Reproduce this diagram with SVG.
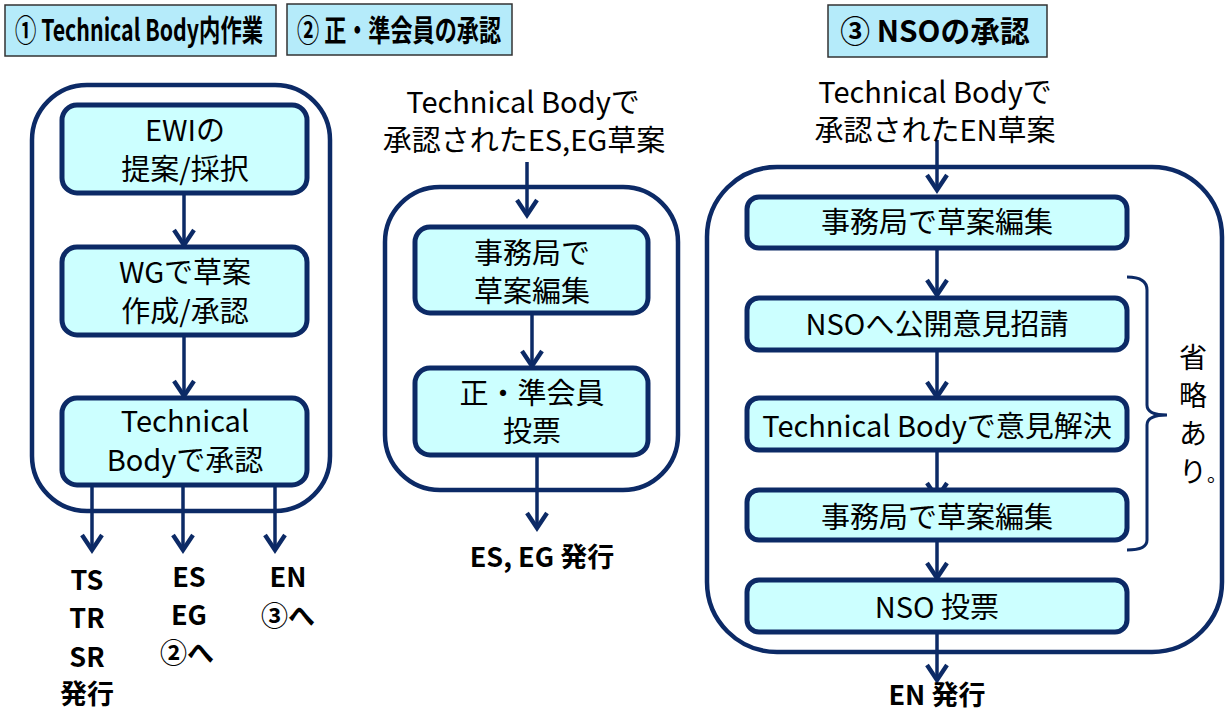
<svg xmlns="http://www.w3.org/2000/svg" width="1231" height="711" viewBox="0 0 1231 711">
<style>
.title{fill:#b5ebfa;stroke:#333;stroke-width:1.5}
.tt{font-family:"Noto Sans CJK JP","Noto Sans",sans-serif;font-weight:bold;font-size:30px;fill:#000;text-anchor:middle}
.panel{fill:none;stroke:#0c2a66;stroke-width:4.5}
.box{fill:#ccffff;stroke:#0c2a66;stroke-width:5}
.t{font-family:"Noto Sans CJK JP","Noto Sans",sans-serif;font-size:29px;fill:#000;text-anchor:middle}
.b{font-family:"Noto Sans CJK JP","Noto Sans",sans-serif;font-weight:bold;font-size:27px;fill:#000;text-anchor:middle}
.c{fill:none;stroke:#0c2a66;stroke-width:3.5;marker-end:url(#ah)}
</style>
<defs>
<marker id="ah" markerUnits="userSpaceOnUse" markerWidth="30" markerHeight="30" refX="0" refY="0" viewBox="-16 -12 20 24" orient="auto">
<path d="M-12,-8 L0,0 L-12,8" fill="none" stroke="#0c2a66" stroke-width="3.5"/>
</marker>
</defs>
<rect width="1231" height="711" fill="#fff"/>

<g id="title1"><rect class="title" x="5" y="5" width="271" height="51"/><text class="tt" transform="translate(139,41) scale(0.8,1)" x="0" y="0" textLength="310" lengthAdjust="spacingAndGlyphs">① Technical Body内作業</text></g>
<g id="title2"><rect class="title" x="287" y="4" width="225" height="51"/><text class="tt" transform="translate(399,41) scale(0.8,1)" x="0" y="0" textLength="255" lengthAdjust="spacingAndGlyphs">② 正・準会員の承認</text></g>
<g id="title3"><rect class="title" x="828" y="5" width="219" height="52"/><text class="tt" transform="translate(935,42) scale(0.8,1)" x="0" y="0" textLength="237" lengthAdjust="spacingAndGlyphs">③ NSOの承認</text></g>

<g id="panel1"><rect class="panel" x="32" y="85" width="298" height="426" rx="55"/></g>
<g id="panel2"><rect class="panel" x="385" y="187" width="293" height="303" rx="55"/></g>
<g id="panel3"><rect class="panel" x="707" y="167" width="515" height="485" rx="70"/></g>

<g id="connectors">
<line class="c" x1="184" y1="193" x2="184" y2="245"/>
<line class="c" x1="184" y1="335" x2="184" y2="396"/>
<line class="c" x1="92" y1="486" x2="92" y2="550"/>
<line class="c" x1="183" y1="486" x2="183" y2="550"/>
<line class="c" x1="275" y1="486" x2="275" y2="550"/>
<line class="c" x1="527" y1="162" x2="527" y2="215"/>
<line class="c" x1="532" y1="313" x2="532" y2="366"/>
<line class="c" x1="537" y1="455" x2="537" y2="528"/>
<line class="c" x1="937" y1="140" x2="937" y2="190"/>
<line class="c" x1="937" y1="248" x2="937" y2="295"/>
<line class="c" x1="937" y1="350" x2="937" y2="397"/>
<line class="c" x1="937" y1="450" x2="937" y2="498"/>
<line class="c" x1="937" y1="532" x2="937" y2="578"/>
<line class="c" x1="937" y1="632" x2="937" y2="680"/>
</g>

<g id="n1"><rect class="box" x="62" y="105" width="245" height="88" rx="15"/><text class="t" x="185" y="141">EWIの</text><text class="t" x="185" y="180">提案/採択</text></g>
<g id="n2"><rect class="box" x="62" y="247" width="245" height="88" rx="15"/><text class="t" x="185" y="283">WGで草案</text><text class="t" x="185" y="322">作成/承認</text></g>
<g id="n3"><rect class="box" x="62" y="398" width="245" height="87" rx="15"/><text class="t" x="185" y="432">Technical</text><text class="t" x="185" y="471">Bodyで承認</text></g>

<g id="out1"><text class="b" x="87" y="590">TS</text><text class="b" x="87" y="628">TR</text><text class="b" x="87" y="667">SR</text><text class="b" x="87" y="704">発行</text></g>
<g id="out2"><text class="b" x="189" y="587">ES</text><text class="b" x="189" y="625">EG</text><text class="b" x="187" y="663">②へ</text></g>
<g id="out3"><text class="b" x="288" y="587">EN</text><text class="b" x="288" y="626">③へ</text></g>

<g id="in2"><text class="t" x="523" y="113">Technical Bodyで</text><text class="t" x="524" y="151">承認されたES,EG草案</text></g>
<g id="m1"><rect class="box" x="415" y="227" width="233" height="86" rx="15"/><text class="t" x="532" y="264">事務局で</text><text class="t" x="532" y="302">草案編集</text></g>
<g id="m2"><rect class="box" x="415" y="368" width="233" height="87" rx="15"/><text class="t" x="532" y="404">正・準会員</text><text class="t" x="532" y="442">投票</text></g>
<g id="outm"><text class="b" x="542" y="567">ES, EG 発行</text></g>

<g id="in3"><text class="t" x="935" y="103">Technical Bodyで</text><text class="t" x="935" y="141">承認されたEN草案</text></g>
<g id="s1"><rect class="box" x="747" y="197" width="380" height="51" rx="12"/><text class="t" x="937" y="233">事務局で草案編集</text></g>
<g id="s2"><rect class="box" x="747" y="298" width="380" height="52" rx="12"/><text class="t" x="937" y="335">NSOへ公開意見招請</text></g>
<g id="s3"><rect class="box" x="747" y="398" width="380" height="52" rx="12"/><text class="t" x="937" y="437">Technical Bodyで意見解決</text></g>
<g id="s4"><rect class="box" x="747" y="490" width="380" height="50" rx="12"/><text class="t" x="937" y="528">事務局で草案編集</text></g>
<g id="s5"><rect class="box" x="747" y="580" width="380" height="52" rx="12"/><text class="t" x="937" y="618">NSO 投票</text></g>
<g id="outs"><text class="b" x="937" y="705">EN 発行</text></g>

<g id="brace"><path d="M1127,277 Q1147,277 1147,290 L1147,405 Q1147,415 1167,415 Q1147,415 1147,425 L1147,540 Q1147,550 1127,550" fill="none" stroke="#0c2a66" stroke-width="3"/></g>
<g id="note" font-family="Noto Sans CJK JP, sans-serif" font-size="28">
<text x="1179" y="368">省</text><text x="1179" y="406">略</text><text x="1179" y="444">あ</text><text x="1179" y="482">り<tspan font-size="20">。</tspan></text>
</g>
</svg>
